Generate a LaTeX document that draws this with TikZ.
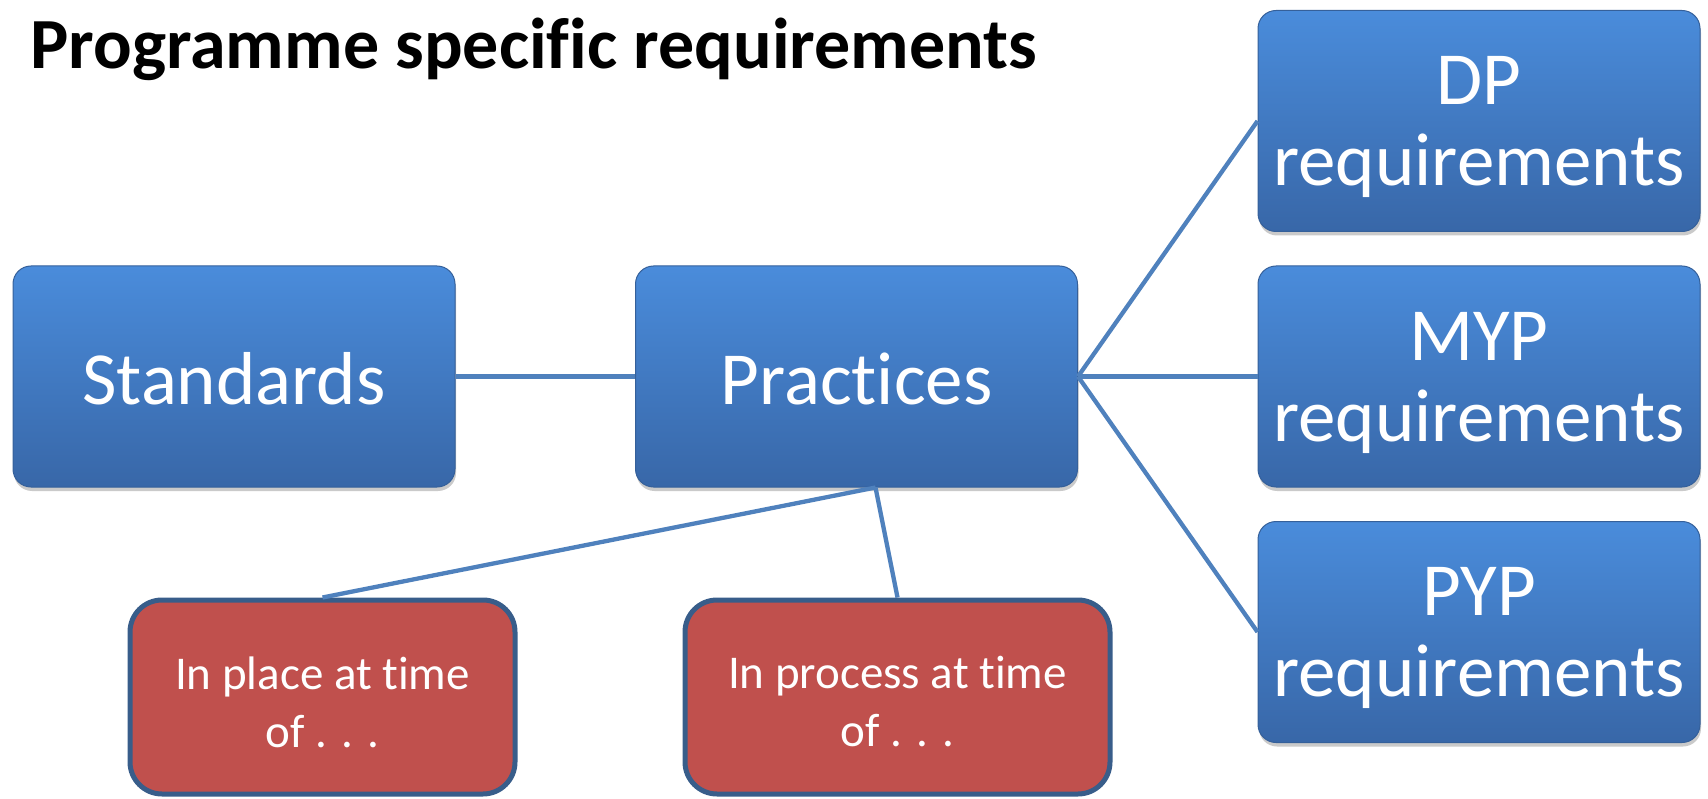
\documentclass[tikz,border=0pt]{standalone}
\usepackage{fontspec}
\setmainfont[Ligatures=NoCommon]{Carlito}
\usetikzlibrary{calc,shadows}
\definecolor{boxtop}{HTML}{4A8CDB}
\definecolor{boxbot}{HTML}{3867A8}
\definecolor{boxedge}{HTML}{35609A}
\definecolor{linkblue}{HTML}{4F81BD}
\definecolor{redfill}{HTML}{C0504D}
\definecolor{rededge}{HTML}{385D8A}
\tikzset{
  x=1pt, y=-1pt,
  bluebox/.style={rectangle, rounded corners=18pt, draw=boxedge, line width=1pt,
    top color=boxtop, bottom color=boxbot,
    drop shadow={shadow xshift=1pt, shadow yshift=-4pt, opacity=0.35, fill=black!60},
    minimum width=442pt, minimum height=221pt, inner sep=0pt},
  bluetext/.style={text=white, align=center, inner sep=0pt,
    font=\fontsize{75}{81}\selectfont},
  redbox/.style={rectangle, rounded corners=32pt, draw=rededge, line width=5pt,
    fill=redfill, minimum height=194pt, inner sep=0pt},
  redtext/.style={text=white, align=center, inner sep=0pt,
    font=\fontsize{47}{58}\selectfont},
  link/.style={draw=linkblue, line width=4.3pt},
}
\begin{document}
\begin{tikzpicture}
\useasboundingbox (0,0) rectangle (1708,799);

\node[anchor=base west, font=\bfseries\fontsize{72}{80}\selectfont] (title) at (27,69) {Programme specific requirements};

% blue boxes, each 442 x 221
\node[bluebox] (std)  at (234,376.5) {};
\node[bluebox] (prac) at (856.5,376.5) {};
\node[bluebox] (dp)   at (1479,121) {};
\node[bluebox] (myp)  at (1479,376.5) {};
\node[bluebox] (pyp)  at (1479,632) {};

\node[bluetext] (stdtext)  at ($(std.center)+(0,2)$)  {Standards};
\node[bluetext] (practext) at ($(prac.center)+(0,2)$) {Practices};
\node[bluetext] (dptext)   at ($(dp.center)+(0,6)$)   {DP\\requirements};
\node[bluetext] (myptext)  at ($(myp.center)+(0,6)$)  {MYP\\requirements};
\node[bluetext] (pyptext)  at ($(pyp.center)+(0,6)$)  {PYP\\requirements};

% red boxes
\node[redbox, minimum width=385pt] (inplace) at (322.5,697) {};
\node[redbox, minimum width=425pt] (inproc)  at (897.5,697) {};
\node[redtext] (inplacetext) at ($(inplace.center)+(0,5)$) {In place at time\\of . . .};
\node[redtext] (inproctext)  at ($(inproc.center)+(0,5)$)  {In process at time\\of . . .};

% connectors
\coordinate (pbot) at ($(prac.south)+(19,0)$);
\draw[link] (std.east) -- (prac.west);
\draw[link] (prac.east) -- (dp.west);
\draw[link] (prac.east) -- (myp.west);
\draw[link] (prac.east) -- (pyp.west);
\draw[link] (pbot) -- (inplace.north);
\draw[link] (pbot) -- (inproc.north);
\end{tikzpicture}
\end{document}
